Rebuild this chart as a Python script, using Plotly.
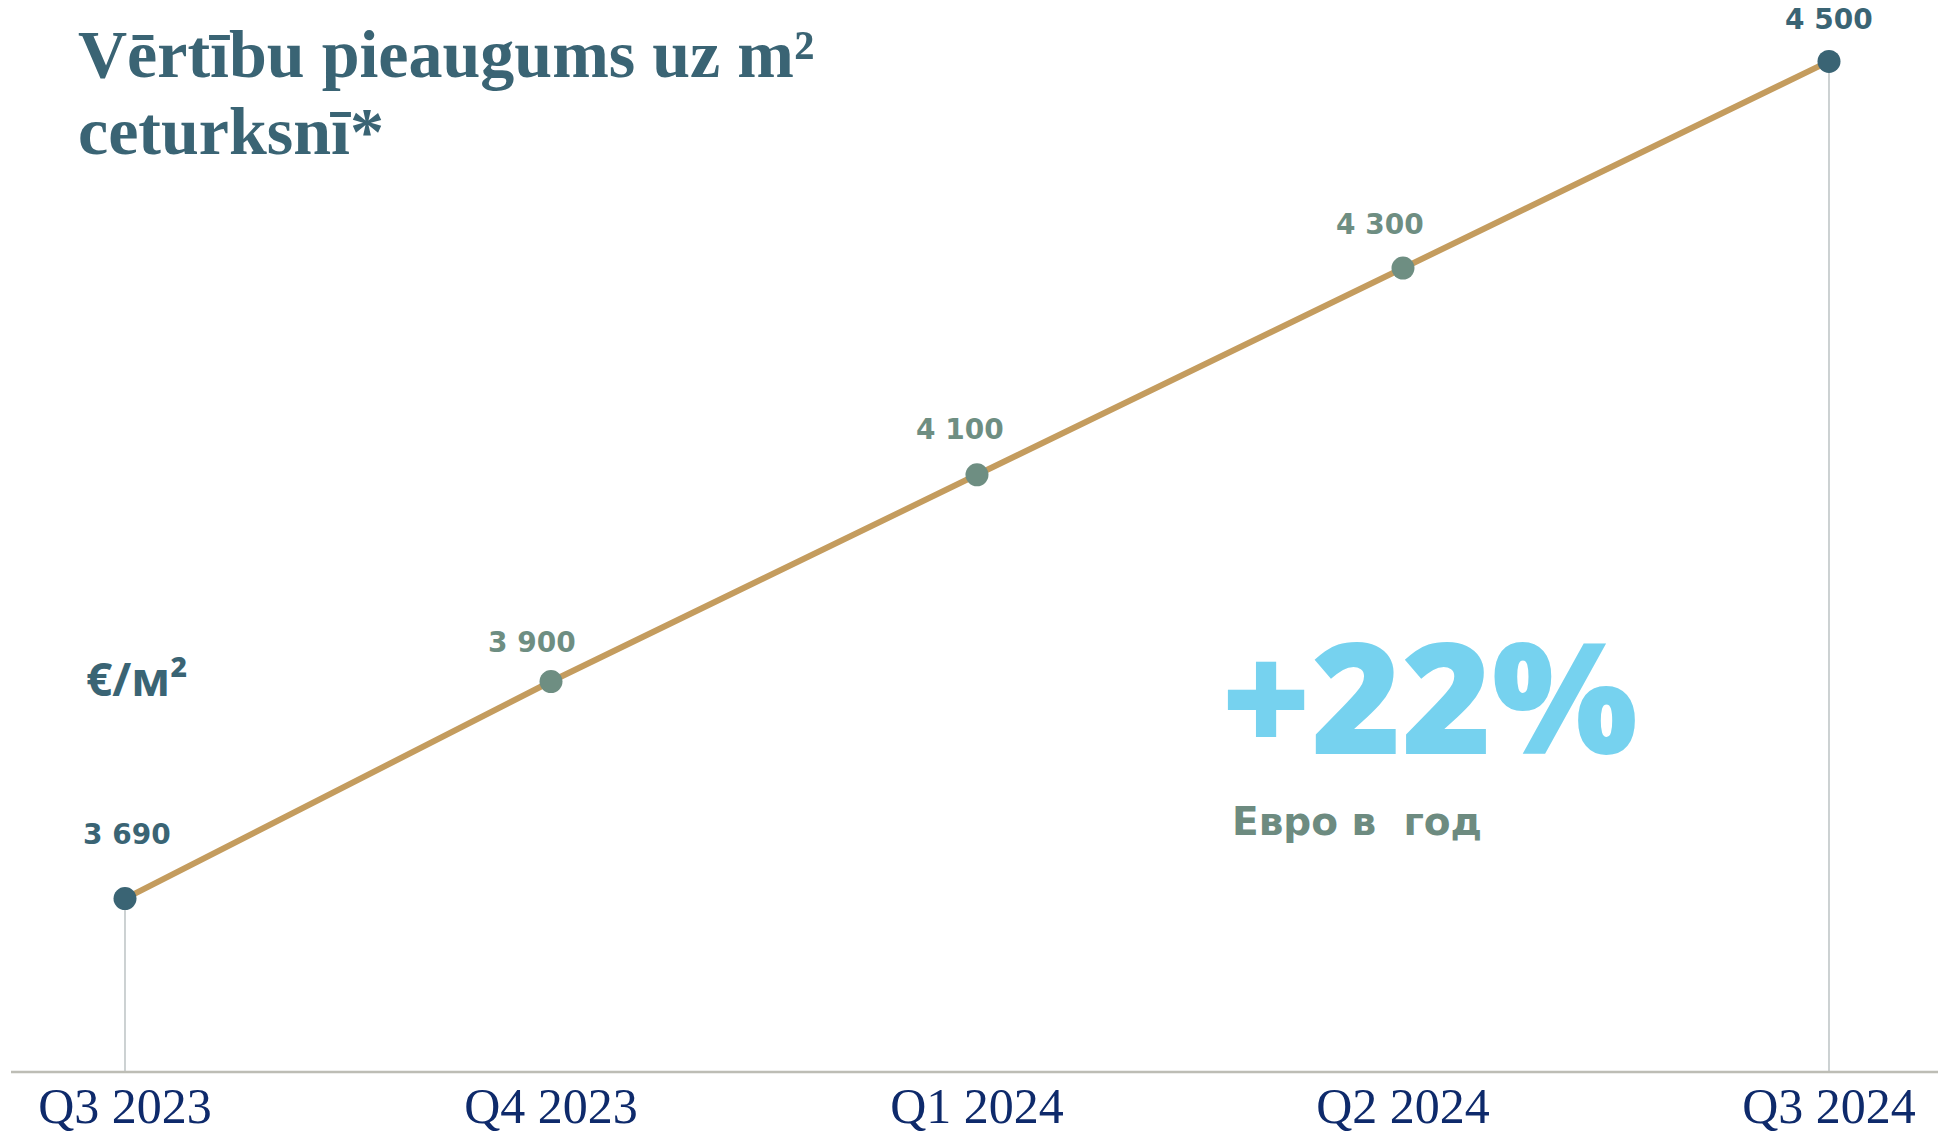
import plotly.graph_objects as go

# ---- data ----
quarters = ["Q3 2023", "Q4 2023", "Q1 2024", "Q2 2024", "Q3 2024"]
values = [3690, 3900, 4100, 4300, 4500]
value_labels = ["3 690", "3 900", "4 100", "4 300", "4 500"]
unit_label = "€/м²"
growth_label = "+22%"
growth_sub = "Евро в  год"
title_lines = ["Vērtību pieaugums uz m²", "ceturksnī*"]

# ---- styles ----
W, H = 1938, 1134
M_B = 52
PLOT_H = H - M_B
DARK = "#3A6474"
GREEN = "#6E8E82"
LINE = "#C49C5E"
marker_colors = [DARK, GREEN, GREEN, GREEN, DARK]
label_colors = [DARK, GREEN, GREEN, GREEN, DARK]
label_xshift = [2, -19, -17, -23, 0]
label_yshift = [64, 39, 45, 44, 42]

x = list(range(len(quarters)))

fig = go.Figure()

# thin vertical drop lines at the first and last point
y_bottom = 3522.2
for i in (0, len(values) - 1):
    fig.add_trace(go.Scatter(
        x=[x[i], x[i]], y=[values[i], y_bottom], mode="lines",
        line=dict(color="#BCC3C4", width=1.5), hoverinfo="skip", showlegend=False))

fig.add_trace(go.Scatter(
    x=x, y=values, mode="lines+markers",
    line=dict(color=LINE, width=6),
    marker=dict(size=23, color=marker_colors, line=dict(width=0)),
    showlegend=False))

for i, (xv, yv) in enumerate(zip(x, values)):
    fig.add_annotation(
        x=xv, y=yv, xref="x", yref="y", text=value_labels[i], showarrow=False,
        xshift=label_xshift[i], yshift=label_yshift[i],
        font=dict(family="DejaVu Sans", size=28, color=label_colors[i], weight=700))

def px(xp):
    return xp / W

def py(yp):
    return (PLOT_H - yp) / PLOT_H

# title
title_font = dict(family="Liberation Serif", size=68, color=DARK, weight=700)
fig.add_annotation(x=px(76), y=py(54), xref="paper", yref="paper", xanchor="left", yanchor="middle",
                   text=title_lines[0], showarrow=False, font=title_font)
fig.add_annotation(x=px(76), y=py(132), xref="paper", yref="paper", xanchor="left", yanchor="middle",
                   text=title_lines[1], showarrow=False, font=title_font)

# unit
fig.add_annotation(x=px(84), y=py(684), xref="paper", yref="paper", xanchor="left", yanchor="middle",
                   text=unit_label, showarrow=False,
                   font=dict(family="Open Sans", size=46, color=DARK, weight=700))

# growth
fig.add_annotation(x=px(1429), y=py(700), xref="paper", yref="paper", xanchor="center", yanchor="middle",
                   text=growth_label, showarrow=False,
                   font=dict(family="Open Sans", size=154, color="#76D2EF", weight=800))
fig.add_annotation(x=px(1230), y=py(829), xref="paper", yref="paper", xanchor="left", yanchor="middle",
                   text=growth_sub, showarrow=False,
                   font=dict(family="DejaVu Sans", size=39, color="#6D8B80", weight=700))

# bottom axis line
fig.add_shape(type="line", xref="paper", yref="paper", x0=11 / W, x1=1, y0=0, y1=0,
              line=dict(color="#BDBDB5", width=2.5))

fig.update_layout(
    width=W, height=H,
    margin=dict(l=0, r=0, t=0, b=M_B),
    paper_bgcolor="white", plot_bgcolor="white",
    xaxis=dict(range=[-0.2934, 4.2559], tickmode="array", tickvals=x, ticktext=quarters,
               showgrid=False, zeroline=False, showline=False, ticks="", ticklabelstandoff=0,
               tickfont=dict(family="Liberation Serif", size=50, color="#0E2A6B"),
               fixedrange=True),
    yaxis=dict(range=[y_bottom, 4559.4], showgrid=False, zeroline=False, showline=False,
               showticklabels=False, ticks="", fixedrange=True),
)

fig.write_html("out.html")
